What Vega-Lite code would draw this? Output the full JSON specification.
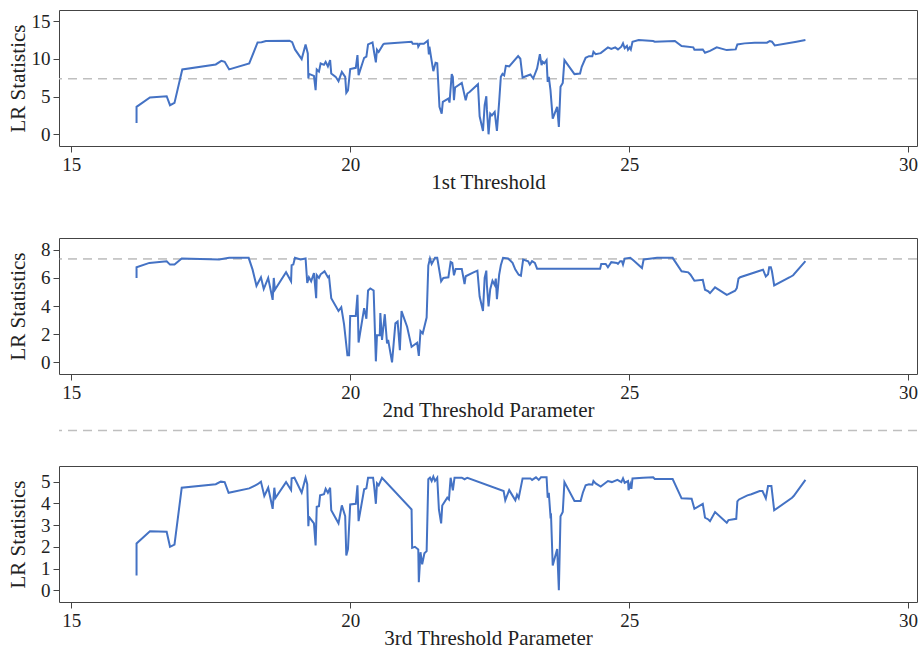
{
  "$schema": "https://vega.github.io/schema/vega-lite/v6.json",
  "padding": {"left": 6, "top": 9, "right": 0, "bottom": 0},
  "background": "white",
  "datasets": {
    "crit": [{"c": 7.35}],
    "p1": [
      {"x":16.17,"lr":1.50},{"x":16.17,"lr":3.63},{"x":16.41,"lr":4.87},{"x":16.71,"lr":5.04},{"x":16.77,"lr":3.85},{"x":16.85,"lr":4.16},{"x":16.99,"lr":8.59},{"x":17.59,"lr":9.25},{"x":17.69,"lr":9.73},{"x":17.75,"lr":9.60},{"x":17.83,"lr":8.59},{"x":18.19,"lr":9.38},{"x":18.34,"lr":12.17},{"x":18.41,"lr":12.2},{"x":18.49,"lr":12.35},{"x":18.91,"lr":12.40},{"x":18.96,"lr":12.2},{"x":19.01,"lr":11.24},{"x":19.13,"lr":9.96},{"x":19.20,"lr":11.90},{"x":19.24,"lr":10.70},{"x":19.25,"lr":7.39},{"x":19.26,"lr":8.00},{"x":19.35,"lr":7.74},{"x":19.38,"lr":5.84},{"x":19.40,"lr":8.59},{"x":19.44,"lr":8.30},{"x":19.47,"lr":9.38},{"x":19.53,"lr":9.20},{"x":19.56,"lr":9.60},{"x":19.60,"lr":9.00},{"x":19.64,"lr":9.82},{"x":19.66,"lr":8.06},{"x":19.74,"lr":7.61},{"x":19.79,"lr":7.03},{"x":19.85,"lr":8.27},{"x":19.91,"lr":7.60},{"x":19.93,"lr":5.48},{"x":19.96,"lr":5.80},{"x":20.00,"lr":8.63},{"x":20.10,"lr":8.80},{"x":20.13,"lr":10.49},{"x":20.15,"lr":7.83},{"x":20.25,"lr":10.13},{"x":20.29,"lr":10.3},{"x":20.32,"lr":11.90},{"x":20.40,"lr":12.17},{"x":20.43,"lr":10.8},{"x":20.46,"lr":9.52},{"x":20.48,"lr":11.20},{"x":20.51,"lr":10.9},{"x":20.59,"lr":11.90},{"x":20.61,"lr":12.0},{"x":21.10,"lr":12.26},{"x":21.12,"lr":12.0},{"x":21.21,"lr":12.0},{"x":21.22,"lr":11.60},{"x":21.25,"lr":12.0},{"x":21.32,"lr":12.0},{"x":21.39,"lr":12.39},{"x":21.41,"lr":10.58},{"x":21.42,"lr":11.6},{"x":21.46,"lr":9.73},{"x":21.49,"lr":8.36},{"x":21.53,"lr":9.47},{"x":21.56,"lr":9.4},{"x":21.60,"lr":3.63},{"x":21.64,"lr":2.74},{"x":21.66,"lr":4.29},{"x":21.76,"lr":4.73},{"x":21.78,"lr":4.20},{"x":21.82,"lr":7.97},{"x":21.84,"lr":7.6},{"x":21.86,"lr":4.51},{"x":21.88,"lr":6.20},{"x":22.00,"lr":6.81},{"x":22.07,"lr":4.51},{"x":22.10,"lr":5.4},{"x":22.14,"lr":5.6},{"x":22.29,"lr":6.64},{"x":22.32,"lr":2.39},{"x":22.38,"lr":0.44},{"x":22.41,"lr":3.85},{"x":22.44,"lr":5.04},{"x":22.45,"lr":3.30},{"x":22.48,"lr":0.00},{"x":22.51,"lr":2.74},{"x":22.54,"lr":2.5},{"x":22.59,"lr":2.96},{"x":22.63,"lr":0.44},{"x":22.67,"lr":4.29},{"x":22.70,"lr":7.61},{"x":22.73,"lr":8.00},{"x":22.76,"lr":7.8},{"x":22.79,"lr":9.07},{"x":22.85,"lr":9.0},{"x":23.01,"lr":10.35},{"x":23.05,"lr":10.00},{"x":23.09,"lr":7.52},{"x":23.23,"lr":7.92},{"x":23.28,"lr":7.39},{"x":23.35,"lr":8.72},{"x":23.40,"lr":10.62},{"x":23.43,"lr":9.16},{"x":23.45,"lr":9.6},{"x":23.48,"lr":9.4},{"x":23.52,"lr":9.82},{"x":23.54,"lr":6.94},{"x":23.56,"lr":7.6},{"x":23.59,"lr":5.84},{"x":23.63,"lr":2.08},{"x":23.71,"lr":3.63},{"x":23.74,"lr":0.97},{"x":23.77,"lr":6.28},{"x":23.81,"lr":6.81},{"x":23.84,"lr":9.82},{"x":24.02,"lr":7.97},{"x":24.12,"lr":8.05},{"x":24.15,"lr":8.94},{"x":24.22,"lr":10.13},{"x":24.28,"lr":10.35},{"x":24.34,"lr":10.35},{"x":24.36,"lr":10.93},{"x":24.40,"lr":10.6},{"x":24.49,"lr":10.75},{"x":24.62,"lr":11.51},{"x":24.68,"lr":11.3},{"x":24.75,"lr":11.51},{"x":24.80,"lr":11.24},{"x":24.86,"lr":11.6},{"x":24.89,"lr":12.04},{"x":24.92,"lr":11.4},{"x":24.96,"lr":11.7},{"x":24.98,"lr":11.20},{"x":25.01,"lr":11.5},{"x":25.03,"lr":11.24},{"x":25.06,"lr":12.26},{"x":25.17,"lr":12.48},{"x":25.43,"lr":12.35},{"x":25.46,"lr":12.26},{"x":25.82,"lr":12.35},{"x":25.94,"lr":11.68},{"x":26.15,"lr":11.51},{"x":26.17,"lr":11.20},{"x":26.32,"lr":11.24},{"x":26.36,"lr":10.80},{"x":26.45,"lr":11.05},{"x":26.57,"lr":11.51},{"x":26.75,"lr":11.15},{"x":26.91,"lr":11.24},{"x":26.94,"lr":11.90},{"x":27.07,"lr":12.04},{"x":27.25,"lr":12.13},{"x":27.47,"lr":12.13},{"x":27.52,"lr":12.35},{"x":27.56,"lr":12.26},{"x":27.61,"lr":11.77},{"x":28.00,"lr":12.26},{"x":28.16,"lr":12.48}
    ],
    "p2": [
      {"x":16.17,"lr":6.00},{"x":16.17,"lr":6.76},{"x":16.40,"lr":7.07},{"x":16.71,"lr":7.19},{"x":16.77,"lr":6.95},{"x":16.85,"lr":6.95},{"x":16.98,"lr":7.38},{"x":17.65,"lr":7.31},{"x":17.83,"lr":7.43},{"x":18.18,"lr":7.43},{"x":18.25,"lr":6.59},{"x":18.32,"lr":5.44},{"x":18.40,"lr":6.05},{"x":18.45,"lr":5.21},{"x":18.53,"lr":6.00},{"x":18.61,"lr":4.44},{"x":18.63,"lr":6.00},{"x":18.65,"lr":5.16},{"x":18.85,"lr":6.40},{"x":18.94,"lr":5.76},{"x":18.95,"lr":6.91},{"x":18.98,"lr":6.95},{"x":19.01,"lr":7.43},{"x":19.11,"lr":7.31},{"x":19.20,"lr":7.38},{"x":19.23,"lr":5.64},{"x":19.26,"lr":6.05},{"x":19.30,"lr":5.76},{"x":19.35,"lr":6.35},{"x":19.39,"lr":4.56},{"x":19.40,"lr":6.2},{"x":19.44,"lr":6.0},{"x":19.47,"lr":6.26},{"x":19.54,"lr":6.47},{"x":19.60,"lr":6.05},{"x":19.62,"lr":6.12},{"x":19.66,"lr":4.56},{"x":19.79,"lr":3.65},{"x":19.84,"lr":3.92},{"x":19.89,"lr":2.7},{"x":19.95,"lr":0.50},{"x":19.98,"lr":0.50},{"x":20.00,"lr":3.30},{"x":20.10,"lr":3.30},{"x":20.13,"lr":4.80},{"x":20.15,"lr":1.41},{"x":20.25,"lr":3.85},{"x":20.29,"lr":3.10},{"x":20.32,"lr":5.11},{"x":20.36,"lr":5.25},{"x":20.42,"lr":5.11},{"x":20.46,"lr":0.07},{"x":20.48,"lr":1.93},{"x":20.53,"lr":1.93},{"x":20.54,"lr":3.5},{"x":20.57,"lr":1.6},{"x":20.62,"lr":3.42},{"x":20.66,"lr":1.35},{"x":20.68,"lr":1.6},{"x":20.75,"lr":0.00},{"x":20.81,"lr":2.77},{"x":20.85,"lr":2.9},{"x":20.89,"lr":0.86},{"x":20.92,"lr":3.65},{"x":20.95,"lr":3.3},{"x":21.02,"lr":2.53},{"x":21.10,"lr":1.10},{"x":21.20,"lr":1.39},{"x":21.23,"lr":0.46},{"x":21.26,"lr":2.22},{"x":21.30,"lr":2.05},{"x":21.37,"lr":3.18},{"x":21.40,"lr":6.88},{"x":21.43,"lr":7.38},{"x":21.46,"lr":7.0},{"x":21.52,"lr":7.43},{"x":21.56,"lr":7.43},{"x":21.63,"lr":5.76},{"x":21.67,"lr":6.0},{"x":21.76,"lr":6.05},{"x":21.80,"lr":7.14},{"x":21.83,"lr":7.07},{"x":21.86,"lr":6.19},{"x":21.89,"lr":6.64},{"x":22.00,"lr":6.64},{"x":22.05,"lr":5.57},{"x":22.07,"lr":6.12},{"x":22.21,"lr":6.40},{"x":22.28,"lr":6.52},{"x":22.32,"lr":4.68},{"x":22.38,"lr":3.65},{"x":22.41,"lr":6.00},{"x":22.44,"lr":6.52},{"x":22.45,"lr":5.5},{"x":22.48,"lr":3.97},{"x":22.51,"lr":5.2},{"x":22.55,"lr":5.8},{"x":22.59,"lr":5.5},{"x":22.61,"lr":5.95},{"x":22.63,"lr":4.49},{"x":22.67,"lr":6.23},{"x":22.70,"lr":6.9},{"x":22.74,"lr":7.43},{"x":22.83,"lr":7.38},{"x":22.91,"lr":7.07},{"x":22.96,"lr":6.59},{"x":23.02,"lr":6.23},{"x":23.06,"lr":6.16},{"x":23.10,"lr":7.31},{"x":23.19,"lr":7.19},{"x":23.22,"lr":6.95},{"x":23.26,"lr":7.19},{"x":23.31,"lr":7.07},{"x":23.35,"lr":6.66},{"x":24.48,"lr":6.66},{"x":24.50,"lr":7.00},{"x":24.58,"lr":7.00},{"x":24.62,"lr":6.76},{"x":24.68,"lr":7.12},{"x":24.78,"lr":7.07},{"x":24.80,"lr":7.00},{"x":24.84,"lr":7.19},{"x":24.87,"lr":7.19},{"x":24.89,"lr":6.95},{"x":24.92,"lr":7.38},{"x":25.02,"lr":7.43},{"x":25.08,"lr":7.24},{"x":25.11,"lr":7.14},{"x":25.23,"lr":6.71},{"x":25.26,"lr":7.31},{"x":25.40,"lr":7.38},{"x":25.50,"lr":7.43},{"x":25.78,"lr":7.43},{"x":25.94,"lr":6.47},{"x":26.06,"lr":6.40},{"x":26.10,"lr":6.23},{"x":26.17,"lr":5.80},{"x":26.32,"lr":5.87},{"x":26.36,"lr":5.16},{"x":26.42,"lr":5.04},{"x":26.45,"lr":4.92},{"x":26.54,"lr":5.33},{"x":26.75,"lr":4.80},{"x":26.78,"lr":4.85},{"x":26.90,"lr":5.09},{"x":26.93,"lr":5.28},{"x":26.96,"lr":5.95},{"x":26.99,"lr":6.05},{"x":27.37,"lr":6.55},{"x":27.40,"lr":6.59},{"x":27.45,"lr":6.10},{"x":27.49,"lr":6.26},{"x":27.51,"lr":6.76},{"x":27.54,"lr":6.76},{"x":27.56,"lr":6.47},{"x":27.60,"lr":5.47},{"x":27.88,"lr":6.05},{"x":27.94,"lr":6.19},{"x":28.16,"lr":7.19}
    ],
    "p3": [
      {"x":16.17,"lr":0.68},{"x":16.17,"lr":2.15},{"x":16.41,"lr":2.72},{"x":16.71,"lr":2.69},{"x":16.77,"lr":2.00},{"x":16.85,"lr":2.10},{"x":16.98,"lr":4.72},{"x":17.59,"lr":4.88},{"x":17.68,"lr":5.00},{"x":17.75,"lr":4.98},{"x":17.82,"lr":4.49},{"x":18.19,"lr":4.69},{"x":18.34,"lr":4.88},{"x":18.40,"lr":5.00},{"x":18.46,"lr":4.34},{"x":18.53,"lr":4.72},{"x":18.61,"lr":3.75},{"x":18.64,"lr":4.72},{"x":18.66,"lr":4.25},{"x":18.85,"lr":4.98},{"x":18.94,"lr":4.61},{"x":18.95,"lr":5.15},{"x":19.00,"lr":5.18},{"x":19.13,"lr":4.49},{"x":19.20,"lr":5.18},{"x":19.23,"lr":4.88},{"x":19.25,"lr":2.95},{"x":19.26,"lr":3.38},{"x":19.35,"lr":3.08},{"x":19.38,"lr":2.06},{"x":19.40,"lr":3.84},{"x":19.44,"lr":3.87},{"x":19.46,"lr":4.37},{"x":19.53,"lr":4.42},{"x":19.56,"lr":4.67},{"x":19.60,"lr":4.49},{"x":19.64,"lr":4.72},{"x":19.66,"lr":3.68},{"x":19.79,"lr":3.08},{"x":19.85,"lr":3.91},{"x":19.91,"lr":3.41},{"x":19.93,"lr":1.60},{"x":19.96,"lr":1.90},{"x":20.00,"lr":3.95},{"x":20.10,"lr":3.98},{"x":20.13,"lr":4.83},{"x":20.15,"lr":3.18},{"x":20.25,"lr":4.65},{"x":20.29,"lr":4.69},{"x":20.32,"lr":5.18},{"x":20.41,"lr":5.18},{"x":20.43,"lr":4.77},{"x":20.46,"lr":3.98},{"x":20.48,"lr":4.92},{"x":20.51,"lr":4.83},{"x":20.57,"lr":5.18},{"x":21.10,"lr":3.72},{"x":21.11,"lr":1.95},{"x":21.16,"lr":2.0},{"x":21.22,"lr":1.88},{"x":21.23,"lr":0.37},{"x":21.26,"lr":1.75},{"x":21.29,"lr":1.19},{"x":21.33,"lr":1.7},{"x":21.37,"lr":1.80},{"x":21.40,"lr":5.11},{"x":21.43,"lr":5.18},{"x":21.46,"lr":5.03},{"x":21.49,"lr":5.23},{"x":21.52,"lr":5.03},{"x":21.56,"lr":5.18},{"x":21.59,"lr":3.72},{"x":21.63,"lr":3.08},{"x":21.65,"lr":3.90},{"x":21.74,"lr":4.26},{"x":21.77,"lr":4.18},{"x":21.80,"lr":5.18},{"x":21.84,"lr":4.60},{"x":21.87,"lr":5.18},{"x":22.00,"lr":5.18},{"x":22.05,"lr":5.11},{"x":22.10,"lr":5.18},{"x":22.75,"lr":4.57},{"x":22.78,"lr":4.14},{"x":22.85,"lr":4.61},{"x":22.96,"lr":4.14},{"x":22.99,"lr":4.40},{"x":23.02,"lr":4.25},{"x":23.09,"lr":5.15},{"x":23.23,"lr":5.15},{"x":23.26,"lr":5.08},{"x":23.33,"lr":5.20},{"x":23.38,"lr":5.08},{"x":23.42,"lr":5.20},{"x":23.52,"lr":5.20},{"x":23.54,"lr":4.26},{"x":23.56,"lr":4.49},{"x":23.59,"lr":3.41},{"x":23.60,"lr":3.44},{"x":23.63,"lr":1.14},{"x":23.71,"lr":1.90},{"x":23.74,"lr":0.00},{"x":23.77,"lr":3.41},{"x":23.81,"lr":3.60},{"x":23.84,"lr":4.98},{"x":24.02,"lr":4.11},{"x":24.13,"lr":4.11},{"x":24.17,"lr":4.49},{"x":24.22,"lr":4.83},{"x":24.28,"lr":4.88},{"x":24.34,"lr":4.86},{"x":24.36,"lr":5.03},{"x":24.40,"lr":4.92},{"x":24.49,"lr":4.77},{"x":24.62,"lr":5.03},{"x":24.69,"lr":4.98},{"x":24.79,"lr":5.08},{"x":24.86,"lr":4.98},{"x":24.89,"lr":5.15},{"x":24.92,"lr":4.95},{"x":24.98,"lr":5.03},{"x":24.99,"lr":4.61},{"x":25.02,"lr":4.88},{"x":25.04,"lr":4.67},{"x":25.06,"lr":5.15},{"x":25.25,"lr":5.18},{"x":25.43,"lr":5.20},{"x":25.46,"lr":5.12},{"x":25.78,"lr":5.12},{"x":25.94,"lr":4.23},{"x":26.12,"lr":4.21},{"x":26.17,"lr":3.75},{"x":26.32,"lr":3.98},{"x":26.36,"lr":3.34},{"x":26.42,"lr":3.26},{"x":26.45,"lr":3.18},{"x":26.54,"lr":3.60},{"x":26.75,"lr":3.11},{"x":26.78,"lr":3.23},{"x":26.92,"lr":3.29},{"x":26.94,"lr":4.09},{"x":26.97,"lr":4.18},{"x":27.12,"lr":4.37},{"x":27.19,"lr":4.42},{"x":27.34,"lr":4.57},{"x":27.39,"lr":4.57},{"x":27.45,"lr":4.23},{"x":27.49,"lr":4.80},{"x":27.55,"lr":4.80},{"x":27.60,"lr":3.68},{"x":27.92,"lr":4.26},{"x":27.95,"lr":4.34},{"x":28.16,"lr":5.08}
    ]
  },
  "vconcat": [
    {
      "width": 858, "height": 136,
      "layer": [
        {"data": {"name": "crit"}, "mark": {"type": "rule", "color": "#bfbfbf", "strokeWidth": 1.5, "strokeDash": [9, 6]},
         "encoding": {"y": {"field": "c", "type": "quantitative", "scale": {"domain": [-1.55, 16.46], "nice": false, "zero": false}, "axis": {"values": [0, 5, 10, 15], "title": "LR Statistics"}}}},
        {"data": {"name": "p1"}, "mark": {"type": "line", "color": "#4472c4", "strokeWidth": 2},
         "encoding": {
           "x": {"field": "x", "type": "quantitative", "scale": {"domain": [14.78, 30.16], "nice": false, "zero": false}, "axis": {"values": [15, 20, 25, 30], "title": "1st Threshold"}},
           "y": {"field": "lr", "type": "quantitative", "scale": {"domain": [-1.55, 16.46], "nice": false, "zero": false}, "axis": {"values": [0, 5, 10, 15], "title": "LR Statistics"}}
         }}
      ]
    },
    {
      "width": 858, "height": 136,
      "layer": [
        {"data": {"name": "crit"}, "mark": {"type": "rule", "color": "#999999", "strokeWidth": 1, "strokeDash": [9, 6]},
         "encoding": {"y": {"field": "c", "type": "quantitative", "scale": {"domain": [-0.83, 8.84], "nice": false, "zero": false}, "axis": {"values": [0, 2, 4, 6, 8], "title": "LR Statistics"}}}},
        {"data": {"name": "p2"}, "mark": {"type": "line", "color": "#4472c4", "strokeWidth": 2},
         "encoding": {
           "x": {"field": "x", "type": "quantitative", "scale": {"domain": [14.78, 30.16], "nice": false, "zero": false}, "axis": {"values": [15, 20, 25, 30], "title": "2nd Threshold Parameter"}},
           "y": {"field": "lr", "type": "quantitative", "scale": {"domain": [-0.83, 8.84], "nice": false, "zero": false}, "axis": {"values": [0, 2, 4, 6, 8], "title": "LR Statistics"}}
         }}
      ]
    },
    {
      "width": 858, "height": 136,
      "layer": [
        {"data": {"name": "crit"}, "mark": {"type": "rule", "color": "#bfbfbf", "strokeWidth": 1.5, "strokeDash": [9, 6]},
         "encoding": {"y": {"field": "c", "type": "quantitative", "scale": {"domain": [-0.54, 5.72], "nice": false, "zero": false}, "axis": {"values": [0, 1, 2, 3, 4, 5], "title": "LR Statistics"}}}},
        {"data": {"name": "p3"}, "mark": {"type": "line", "color": "#4472c4", "strokeWidth": 2},
         "encoding": {
           "x": {"field": "x", "type": "quantitative", "scale": {"domain": [14.78, 30.16], "nice": false, "zero": false}, "axis": {"values": [15, 20, 25, 30], "title": "3rd Threshold Parameter"}},
           "y": {"field": "lr", "type": "quantitative", "scale": {"domain": [-0.54, 5.72], "nice": false, "zero": false}, "axis": {"values": [0, 1, 2, 3, 4, 5], "title": "LR Statistics"}}
         }}
      ]
    }
  ],
  "spacing": 92,
  "bounds": "flush",
  "config": {
    "font": "Liberation Serif",
    "view": {"stroke": "#444444", "strokeWidth": 1},
    "axis": {
      "grid": false, "domain": false, "labelOverlap": false, "labelBound": false, "labelFlush": false,
      "tickColor": "#444444", "tickSize": 6,
      "labelFont": "Liberation Serif", "titleFont": "Liberation Serif",
      "labelFontSize": 19, "titleFontSize": 21, "titleFontWeight": "normal",
      "labelColor": "#222222", "titleColor": "#222222"
    },
    "axisX": {"labelPadding": 3, "titlePadding": -3},
    "axisY": {"labelPadding": 3, "minExtent": 29, "maxExtent": 29, "titlePadding": 2}
  }
}
